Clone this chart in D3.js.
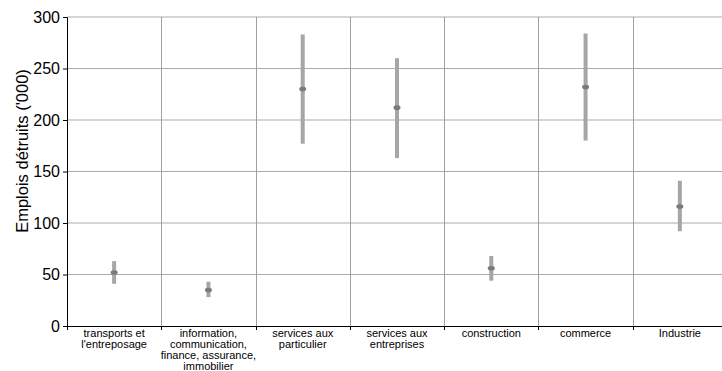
<!DOCTYPE html>
<html>
<head>
<meta charset="utf-8">
<script src="https://cdn.jsdelivr.net/npm/d3@7"></script>
<style>
  body { margin: 0; background: #fff; }
  text { font-family: 'Liberation Sans', Arial, sans-serif; fill: #000; }
</style>
</head>
<body>
<svg width="722" height="371"></svg>
<script>
// categories (line breaks as in the original labels)
const categories = [
  "transports et\nl'entreposage",
  "information,\ncommunication,\nfinance, assurance,\nimmobilier",
  "services aux\nparticulier",
  "services aux\nentreprises",
  "construction",
  "commerce",
  "Industrie"
]
const central = [52, 35, 230, 212, 56, 232, 116]
const low = [41, 28, 177, 163, 44, 180, 92]
const high = [63, 43, 283, 260, 68, 284, 141]
const yTicks = [0, 50, 100, 150, 200, 250, 300]

const svg = d3.select('svg')
const width = +svg.attr('width')
const height = +svg.attr('height')

const margin = {top: 17, left: 67}
const plotBottom = 326

const data = categories.map((c, i) => ({cat: c, v: central[i], lo: low[i], hi: high[i]}))

const xScale = d3.scaleBand()
  .domain(categories)
  .range([margin.left, 727])
  .padding(0)

const yScale = d3.scaleLinear()
  .domain([0, 300])
  .range([plotBottom, margin.top])

// horizontal grid
svg.append('g')
  .selectAll('line').data(yTicks.filter(d => d > 0))
  .enter().append('line')
    .attr('x1', margin.left).attr('x2', width)
    .attr('y1', d => yScale(d)).attr('y2', d => yScale(d))
    .attr('stroke', '#ababab').attr('stroke-width', 1)

// vertical separators between categories
svg.append('g')
  .selectAll('line').data(categories.slice(1))
  .enter().append('line')
    .attr('x1', d => Math.round(xScale(d)) + 0.5).attr('x2', d => Math.round(xScale(d)) + 0.5)
    .attr('y1', margin.top).attr('y2', plotBottom)
    .attr('stroke', '#a0a0a0').attr('stroke-width', 1)

// y axis
const yAxisG = svg.append('g')
  .attr('transform', `translate(${margin.left},0)`)
  .call(d3.axisLeft(yScale).tickValues(yTicks).tickSize(4).tickPadding(3))
yAxisG.select('.domain').attr('stroke', '#000')
yAxisG.selectAll('.tick line').attr('stroke', '#000')
yAxisG.selectAll('.tick text')
  .style('font-size', '16px')
  .style('font-family', "'Liberation Sans', Arial, sans-serif")

// x axis line and ticks at band boundaries
svg.append('line')
  .attr('x1', margin.left).attr('x2', width)
  .attr('y1', plotBottom + 0.5).attr('y2', plotBottom + 0.5)
  .attr('stroke', '#000')
svg.append('g')
  .selectAll('line').data(categories)
  .enter().append('line')
    .attr('x1', d => Math.round(xScale(d)) + 0.5).attr('x2', d => Math.round(xScale(d)) + 0.5)
    .attr('y1', plotBottom).attr('y2', plotBottom + 4)
    .attr('stroke', '#000')

// category labels
const labels = svg.append('g')
  .selectAll('text').data(categories)
  .enter().append('text')
    .attr('text-anchor', 'middle')
    .attr('x', d => xScale(d) + xScale.bandwidth() / 2)
    .attr('y', 336.5)
    .style('font-size', '11px')
labels.selectAll('tspan')
  .data(d => d.split('\n'))
  .enter().append('tspan')
    .attr('x', function () { return d3.select(this.parentNode).attr('x') })
    .attr('dy', (d, i) => i === 0 ? 0 : 11)
    .text(d => d)

// y axis title
svg.append('text')
  .attr('transform', 'translate(28,151) rotate(-90)')
  .attr('text-anchor', 'middle')
  .style('font-size', '16.5px')
  .text("Emplois détruits ('000)")

// range bars
svg.append('g')
  .selectAll('rect').data(data)
  .enter().append('rect')
    .attr('x', d => xScale(d.cat) + xScale.bandwidth() / 2 - 2)
    .attr('width', 4)
    .attr('y', d => yScale(d.hi))
    .attr('height', d => yScale(d.lo) - yScale(d.hi))
    .attr('fill', '#a6a6a6')

// central estimates
svg.append('g')
  .selectAll('ellipse').data(data)
  .enter().append('ellipse')
    .attr('cx', d => xScale(d.cat) + xScale.bandwidth() / 2)
    .attr('cy', d => yScale(d.v))
    .attr('rx', 3.5).attr('ry', 2.3)
    .attr('fill', '#7a7a7a')
</script>
</body>
</html>
